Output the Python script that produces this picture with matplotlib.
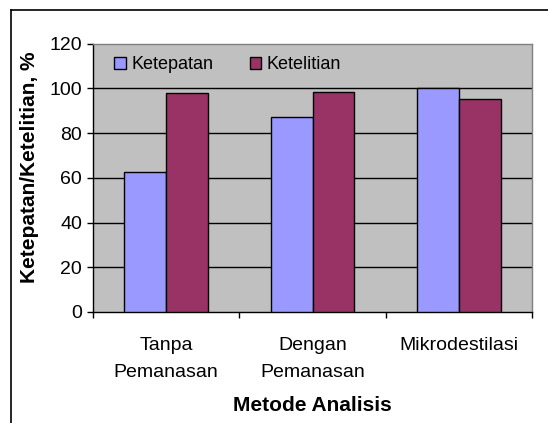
import numpy as np
import matplotlib
matplotlib.use("Agg")
import matplotlib.pyplot as plt
from matplotlib.lines import Line2D

plt.rcParams['font.family'] = ['Liberation Sans', 'DejaVu Sans']

# data
kategori = ['Tanpa\nPemanasan', 'Dengan\nPemanasan', 'Mikrodestilasi']
ketepatan = [62.5, 87, 100]
ketelitian = [98, 98.5, 95]

fig = plt.figure(figsize=(5.48, 4.23), dpi=100)
ax = fig.add_axes([93/548, 1 - 312/423, (532 - 93)/548, (312 - 43.5)/423])
ax.set_facecolor('#C0C0C0')

x = np.arange(len(kategori))
w = 1/3.5
ax.bar(x - w/2, ketepatan, w, color='#9999FF', edgecolor='black', linewidth=1, label='Ketepatan', zorder=3)
ax.bar(x + w/2, ketelitian, w, color='#993366', edgecolor='black', linewidth=1, label='Ketelitian', zorder=3)

ax.set_ylim(0, 120)
ax.set_yticks(range(0, 121, 20))
ax.set_xlim(-0.5, 2.5)
ax.set_xticks([-0.5, 0.5, 1.5, 2.5])
ax.set_xticklabels([])
ax.set_xticks(x, minor=True)
ax.set_xticklabels(kategori, minor=True, fontsize=14, linespacing=1.75)
ax.tick_params(axis='x', which='minor', length=0, pad=18)
ax.tick_params(axis='x', which='major', length=4, width=1, direction='out')
ax.tick_params(axis='y', length=4, width=1, labelsize=14, pad=4)

for g in range(20, 101, 20):
    ax.axhline(g, color='black', linewidth=1, zorder=1)

ax.spines['left'].set_color('black')
ax.spines['bottom'].set_color('black')
ax.spines['top'].set_color('#808080')
ax.spines['right'].set_color('#808080')
for s in ax.spines.values():
    s.set_linewidth(1)

ax.set_ylabel('Ketepatan/Ketelitian, %', fontsize=15, fontweight='bold')
ax.yaxis.set_label_coords(-0.122, 0.54)
ax.set_xlabel('Metode Analisis', fontsize=15, fontweight='bold', labelpad=11)

ax.legend(loc='upper left', bbox_to_anchor=(0.02, 1.0), ncol=2, frameon=False,
          fontsize=13, handlelength=0.65, handleheight=0.65, handletextpad=0.3,
          columnspacing=2.0, borderaxespad=0.3)

# outer border of chart
fig.add_artist(Line2D([11/548, 11/548], [0, 1 - 10/423], color='black', linewidth=1.2))
fig.add_artist(Line2D([11/548, 1], [1 - 10/423, 1 - 10/423], color='black', linewidth=1.2))

fig.savefig('out.png', dpi=100)
